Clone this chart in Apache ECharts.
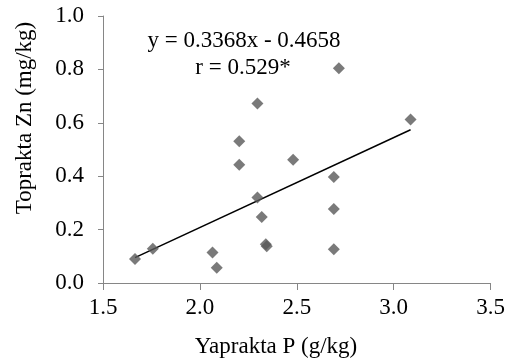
<!DOCTYPE html>
<html><head><meta charset="utf-8">
<script src="https://cdn.jsdelivr.net/npm/echarts@6/dist/echarts.min.js"></script>
<style>html,body{margin:0;padding:0;background:#fff}#c{width:508px;height:363px}</style>
</head><body><div id="c"></div>
<script>
const xValues = [1.665,1.757,2.065,2.087,2.203,2.203,2.297,2.297,2.319,2.340,2.345,2.481,2.691,2.691,2.691,2.717,3.087];
const yValues = [0.090,0.128,0.114,0.057,0.531,0.443,0.672,0.320,0.247,0.145,0.138,0.462,0.397,0.277,0.126,0.804,0.612];
const slope = 0.3368, intercept = -0.4658;
const equationText = 'y = 0.3368x - 0.4658';
const rText = 'r = 0.529*';
const xTitle = 'Yaprakta P (g/kg)';
const yTitle = 'Toprakta Zn (mg/kg)';

const pts = xValues.map((x,i)=>[x,yValues[i]]);
const xmin = Math.min(...xValues), xmax = Math.max(...xValues);
const trend = [[xmin, slope*xmin+intercept],[xmax, slope*xmax+intercept]];
const F = '"Liberation Serif","Times New Roman",serif';
const chart = echarts.init(document.getElementById('c'));
chart.setOption({
  animation:false,
  grid:{left:103,right:14,top:16,bottom:80,containLabel:false},
  xAxis:{type:'value',min:1.5,max:3.5,interval:0.5,
    axisLine:{lineStyle:{color:'#868686',width:1}},
    axisTick:{show:true,length:7,lineStyle:{color:'#868686'}},
    splitLine:{show:false},
    axisLabel:{color:'#000',fontFamily:F,fontSize:23,margin:13,formatter:v=>v.toFixed(1)}},
  yAxis:{type:'value',min:0,max:1,interval:0.2,
    axisLine:{show:true,lineStyle:{color:'#868686',width:1}},
    axisTick:{show:true,length:5,lineStyle:{color:'#868686'}},
    splitLine:{show:false},
    axisLabel:{color:'#000',fontFamily:F,fontSize:23,margin:19,formatter:v=>v.toFixed(1)}},
  graphic:[
    {type:'text',left:'center',style:{text:equationText,fontFamily:F,fontSize:23,fill:'#000',x:244,y:41,align:'center',verticalAlign:'middle'},left:null,x:0,y:0},
    {type:'text',style:{text:rText,fontFamily:F,fontSize:23,fill:'#000',x:243,y:68,align:'center',verticalAlign:'middle'}},
    {type:'text',style:{text:xTitle,fontFamily:F,fontSize:23,fill:'#000',x:276,y:347,align:'center',verticalAlign:'middle'}},
    {type:'text',x:25,y:118,rotation:Math.PI/2,style:{text:yTitle,fontFamily:F,fontSize:23,fill:'#000',x:0,y:0,align:'center',verticalAlign:'middle'}}
  ],
  series:[
    {type:'line',data:trend,symbol:'none',lineStyle:{color:'#000',width:1.5},z:1},
    {type:'scatter',data:pts,symbol:'diamond',symbolSize:12,itemStyle:{color:'#595959'},z:2}
  ]
});
</script></body></html>
